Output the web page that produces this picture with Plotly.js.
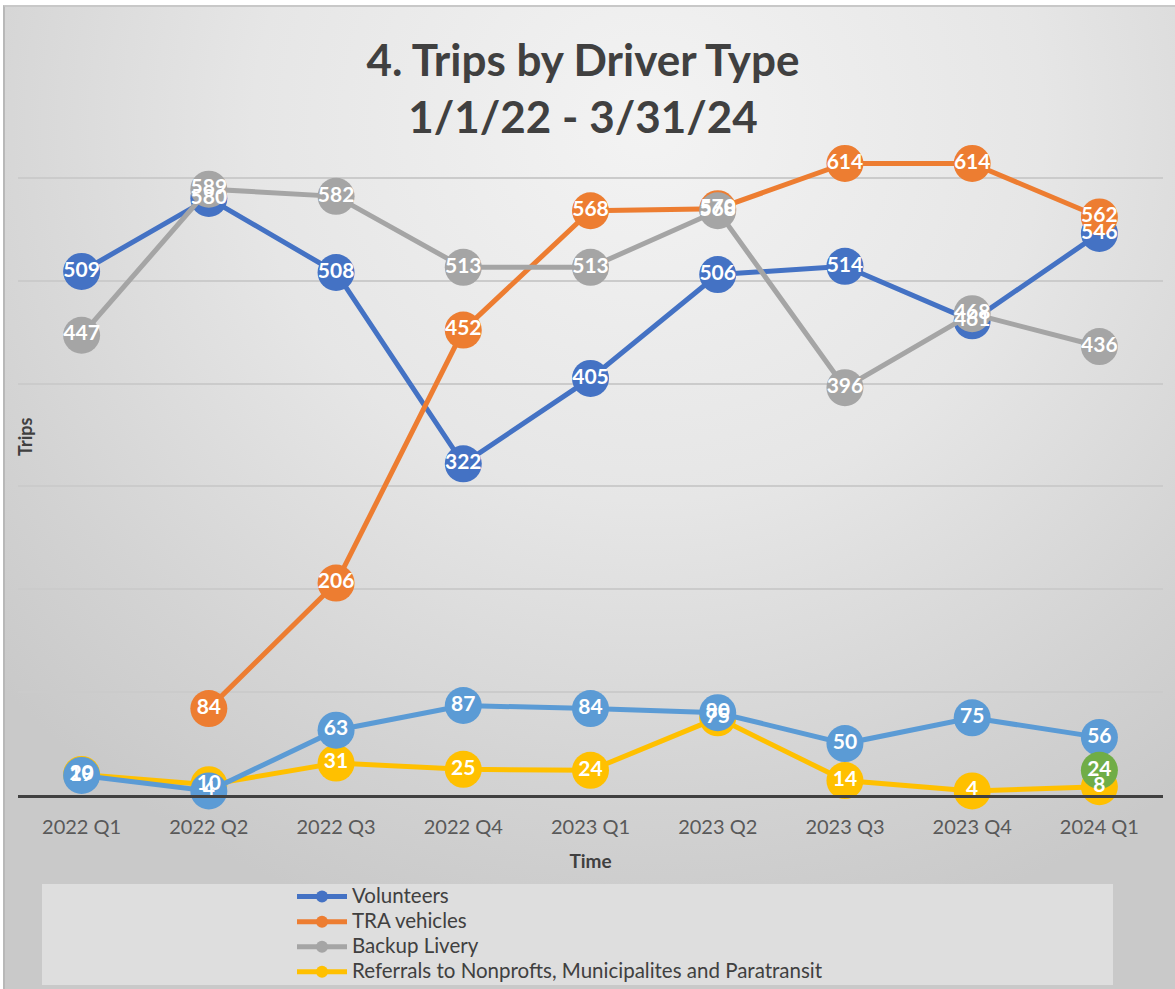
<!DOCTYPE html>
<html>
<head>
<meta charset="utf-8">
<script src="https://cdn.plot.ly/plotly-3.0.1.min.js"></script>
<style>
  html, body { margin: 0; padding: 0; background: #ffffff; }
  #frame {
    position: absolute; left: 3px; top: 5px; width: 1172px; height: 984px;
    box-sizing: border-box;
    border-left: 2px solid #b8b8b8; border-top: 2px solid #c8c8c8;
    background: radial-gradient(ellipse 75% 85% at 55% 12%, #f3f3f3 0%, #e6e6e6 45%, #d3d3d3 80%, #c9c9c9 100%);
  }
  #chart { position: absolute; left: 0; top: 0; width: 1175px; height: 989px; }
  #chart .legend .legendtext { font-size: 20.5px !important; }
  #chart .legend .scrollbox, #chart .legend { clip-path: none !important; }
</style>
</head>
<body>
<div id="frame"></div>
<div id="chart"></div>
<script>
// ---- data ----
const quarters = ['2022 Q1', '2022 Q2', '2022 Q3', '2022 Q4', '2023 Q1', '2023 Q2', '2023 Q3', '2023 Q4', '2024 Q1'];
const volunteers = [509, 580, 508, 322, 405, 506, 514, 461, 546];
const traVehicles = [null, 84, 206, 452, 568, 570, 614, 614, 562];
const backupLivery = [447, 589, 582, 513, 513, 568, 396, 468, 436];
const referrals = [20, 10, 31, 25, 24, 75, 14, 4, 8];
const seriesFive = [19, 4, 63, 87, 84, 80, 50, 75, 56];
const seriesSix = [null, null, null, null, null, null, null, null, 24];

const seriesNames = ['Volunteers', 'TRA vehicles', 'Backup Livery', 'Referrals to Nonprofts, Municipalites and Paratransit', 'Series 5', 'Series 6'];
const seriesValues = [volunteers, traVehicles, backupLivery, referrals, seriesFive, seriesSix];
const seriesColors = ['#4472C4', '#ED7D31', '#A5A5A5', '#FFC000', '#5B9BD5', '#70AD47'];
const inLegend = [true, true, true, true, false, false];

const FONT = 'Lato, "Open Sans", sans-serif';

const traces = [];
seriesValues.forEach((vals, i) => {
  traces.push({
    type: 'scatter',
    mode: 'lines+markers',
    x: quarters,
    y: vals,
    name: seriesNames[i],
    showlegend: inLegend[i],
    cliponaxis: false,
    line: { color: seriesColors[i], width: 5 },
    marker: { color: seriesColors[i], size: 37, line: { width: 0 } },
    hoverinfo: 'x+y+name'
  });
});
// data labels drawn above all markers
seriesValues.forEach((vals, i) => {
  traces.push({
    type: 'scatter',
    mode: 'text',
    x: quarters,
    y: vals,
    text: vals.map(v => v === null ? '' : String(v)),
    textposition: 'middle center',
    textfont: { family: FONT, size: 21, color: '#ffffff', weight: 'bold' },
    showlegend: false,
    cliponaxis: false,
    hoverinfo: 'skip'
  });
});

const W = 1175, H = 989, ML = 18, MR = 12, MT = 75, MB = 194;
const PW = W - ML - MR, PH = H - MT - MB;
const px2x = px => (px - ML) / PW;
const py2y = py => (H - MB - py) / PH;

const layout = {
  width: W, height: H, autosize: false,
  margin: { l: ML, r: MR, t: MT, b: MB, pad: 0, autoexpand: false },
  paper_bgcolor: 'rgba(0,0,0,0)',
  plot_bgcolor: 'rgba(0,0,0,0)',
  font: { family: FONT, color: '#404040' },
  title: {
    text: '4. Trips by Driver Type<br>1/1/22 - 3/31/24',
    font: { family: FONT, size: 44, color: '#404040', weight: 'bold' },
    xref: 'container', x: 583 / W, xanchor: 'center',
    yref: 'container', y: 1 - 76 / H, yanchor: 'middle'
  },
  xaxis: {
    type: 'category',
    range: [-0.5, 8.5],
    automargin: false,
    showgrid: false,
    zeroline: false,
    showline: true, linecolor: '#404040', linewidth: 3,
    ticks: '', ticklabelstandoff: 12,
    tickfont: { family: FONT, size: 20, color: '#595959' },
    title: { text: 'Time', font: { family: FONT, size: 19, color: '#404040', weight: 'bold' }, standoff: 18 },
    fixedrange: true
  },
  yaxis: {
    range: [0, 700],
    dtick: 100,
    automargin: false,
    showticklabels: false,
    showgrid: true, gridcolor: '#cbcbcb', gridwidth: 2,
    zeroline: false, showline: false, ticks: '',
    fixedrange: true
  },
  annotations: [{
    text: 'Trips', textangle: -90,
    xref: 'paper', yref: 'paper', x: px2x(25), y: py2y(437),
    xanchor: 'center', yanchor: 'middle', showarrow: false,
    font: { family: FONT, size: 18, color: '#404040', weight: 'bold' }
  }],
  shapes: [{
    type: 'rect', xref: 'paper', yref: 'paper', layer: 'below',
    x0: px2x(42), x1: px2x(1113), y0: py2y(985), y1: py2y(884),
    fillcolor: '#dedede', line: { width: 0 }
  }],
  legend: {
    orientation: 'v',
    xref: 'container', yref: 'container',
    x: 292 / W, xanchor: 'left',
    y: 1 - 879 / H, yanchor: 'top',
    bgcolor: 'rgba(0,0,0,0)',
    font: { family: FONT, size: 17, color: '#404040' },
    itemsizing: 'constant',
    itemwidth: 50,
    tracegroupgap: 0
  },
  showlegend: true
};

Plotly.newPlot('chart', traces, layout, { staticPlot: true, displayModeBar: false });
</script>
</body>
</html>
